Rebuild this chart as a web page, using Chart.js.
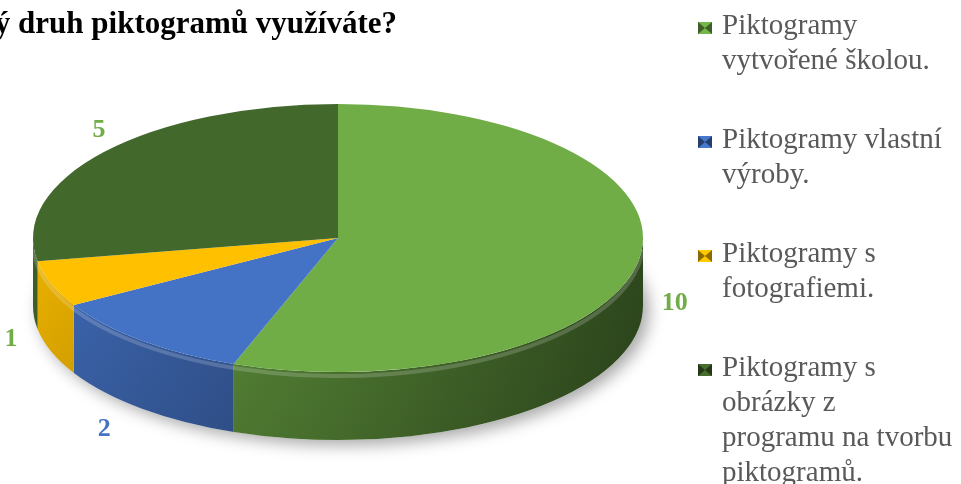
<!DOCTYPE html>
<html lang="cs">
<head>
  <meta charset="UTF-8" />
  <title>Druh piktogramů</title>
  <script src="https://cdn.jsdelivr.net/npm/chart.js"></script>
  <style>
    body {
      margin: 0;
      background: #fff;
      font-family: "Liberation Serif", "Times New Roman", serif;
    }

    .wrap {
      position: relative;
      width: 961px;
      height: 484px;
      overflow: hidden;
    }

    canvas {
      position: absolute;
      left: 0;
      top: 0;
    }

    .title {
      position: absolute;
      right: 564px;
      top: 7px;
      white-space: nowrap;
      font-weight: bold;
      font-size: 31px;
      line-height: 31px;
      color: #000;
    }

    .item {
      position: absolute;
      left: 697px;
      padding-left: 25px;
      font-size: 29px;
      line-height: 35px;
      color: #595959;
      white-space: nowrap;
    }

    .box {
      position: absolute;
      left: 1px;
      top: 15px;
      width: 0;
      height: 0;
      border-style: solid;
      border-width: 6px 7px;
    }
  </style>
</head>
<body>
  <div class="wrap">
    <canvas id="pie" width="961" height="484"></canvas>
    <div class="title">Jaký druh piktogramů využíváte?</div>
    <div id="legend"></div>
  </div>

  <script>
    const categories = [
      ["Piktogramy", "vytvořené školou."],
      ["Piktogramy vlastní", "výroby."],
      ["Piktogramy s", "fotografiemi."],
      ["Piktogramy s", "obrázky z", "programu na tvorbu", "piktogramů."]
    ];
    const values = [10, 2, 1, 5];
    const colors = ["#70AD47", "#4472C4", "#FFC000", "#43682B"];
    const valueColors = ["#70AD47", "#4472C4", "#70AD47", "#70AD47"];

    // ellipse radii and thickness of the 3D disc
    const RX = 305, RY = 134, DEPTH = 68;

    function shade(hex, f) {
      const n = parseInt(hex.slice(1), 16);
      const r = Math.min(255, Math.round(((n >> 16) & 255) * f));
      const g = Math.min(255, Math.round(((n >> 8) & 255) * f));
      const b = Math.min(255, Math.round((n & 255) * f));
      return `rgb(${r},${g},${b})`;
    }

    // legend on the right, one block per category
    const legend = document.getElementById("legend");
    categories.forEach((lines, i) => {
      const item = document.createElement("div");
      item.className = "item";
      item.style.top = (7 + i * 114) + "px";
      const box = document.createElement("span");
      box.className = "box";
      box.style.borderColor = `${shade(colors[i], 1.05)} ${shade(colors[i], 0.55)}`;
      item.appendChild(box);
      item.insertAdjacentHTML("beforeend", lines.join("<br>"));
      legend.appendChild(item);
    });

    const pie3d = {
      id: "pie3d",
      beforeDatasetsDraw(chart) {
        const ctx = chart.ctx;
        const arcs = chart.getDatasetMeta(0).data;
        const cx = arcs[0].x, cy = arcs[0].y, R = arcs[0].outerRadius;

        // soft shadow under the disc
        ctx.save();
        ctx.shadowColor = "rgba(0,0,0,0.35)";
        ctx.shadowBlur = 16;
        ctx.shadowOffsetX = 6;
        ctx.shadowOffsetY = 5;
        ctx.fillStyle = "#fff";
        ctx.beginPath();
        ctx.ellipse(cx, cy + DEPTH, RX, RY, 0, 0, Math.PI * 2);
        ctx.fill();
        ctx.restore();

        // visible side wall of each slice (front half only)
        arcs.forEach((arc, i) => {
          const a1 = Math.max(arc.startAngle, 0);
          const a2 = Math.min(arc.endAngle, Math.PI);
          if (a2 <= a1) return;
          ctx.beginPath();
          ctx.ellipse(cx, cy, RX, RY, 0, a1, a2, false);
          ctx.ellipse(cx, cy + DEPTH, RX, RY, 0, a2, a1, true);
          ctx.closePath();
          const g = ctx.createLinearGradient(cx - RX, 0, cx + RX, 0);
          g.addColorStop(0, shade(colors[i], 0.93));
          g.addColorStop(0.45, shade(colors[i], 0.72));
          g.addColorStop(1, shade(colors[i], 0.42));
          ctx.fillStyle = g;
          ctx.fill();
        });

        // darken towards the bottom of the wall
        ctx.save();
        ctx.beginPath();
        ctx.ellipse(cx, cy, RX, RY, 0, 0, Math.PI, false);
        ctx.ellipse(cx, cy + DEPTH, RX, RY, 0, Math.PI, 0, true);
        ctx.closePath();
        const v = ctx.createLinearGradient(0, cy, 0, cy + RY + DEPTH);
        v.addColorStop(0, "rgba(0,0,0,0)");
        v.addColorStop(1, "rgba(0,0,0,0.12)");
        ctx.fillStyle = v;
        ctx.fill();
        // light rim just under the top edge
        ctx.beginPath();
        ctx.ellipse(cx, cy + 4, RX, RY, 0, 0.05, Math.PI - 0.05);
        ctx.strokeStyle = "rgba(255,255,255,0.18)";
        ctx.lineWidth = 4;
        ctx.stroke();
        ctx.restore();

        // squash the circular pie into the top ellipse
        ctx.save();
        ctx.translate(cx, cy);
        ctx.scale(RX / R, RY / R);
        ctx.translate(-cx, -cy);
      },
      afterDatasetsDraw(chart) {
        const ctx = chart.ctx;
        ctx.restore();
        const arcs = chart.getDatasetMeta(0).data;
        const cx = arcs[0].x, cy = arcs[0].y;
        ctx.save();
        ctx.font = 'bold 26px "Liberation Serif", "Times New Roman", serif';
        ctx.textAlign = "center";
        ctx.textBaseline = "middle";
        arcs.forEach((arc, i) => {
          const mid = (arc.startAngle + arc.endAngle) / 2;
          const s = Math.sin(mid), c = Math.cos(mid);
          // labels sit further out on the near side of the disc
          const lx = cx + c * RX * (1.1 + 0.12 * s);
          const ly = cy + DEPTH * 0.42 + s * (RY + DEPTH) * 1.05;
          ctx.fillStyle = valueColors[i];
          ctx.fillText(String(values[i]), lx, ly);
        });
        ctx.restore();
      }
    };

    new Chart(document.getElementById("pie"), {
      type: "pie",
      data: {
        labels: categories.map(l => l.join(" ")),
        datasets: [{
          data: values,
          backgroundColor: colors,
          borderWidth: 0,
          clip: false
        }]
      },
      options: {
        responsive: false,
        animation: false,
        events: [],
        layout: {
          padding: { left: 138, right: 423, top: 38, bottom: 46 }
        },
        plugins: {
          legend: { display: false },
          tooltip: { enabled: false }
        }
      },
      plugins: [pie3d]
    });
  </script>
</body>
</html>
